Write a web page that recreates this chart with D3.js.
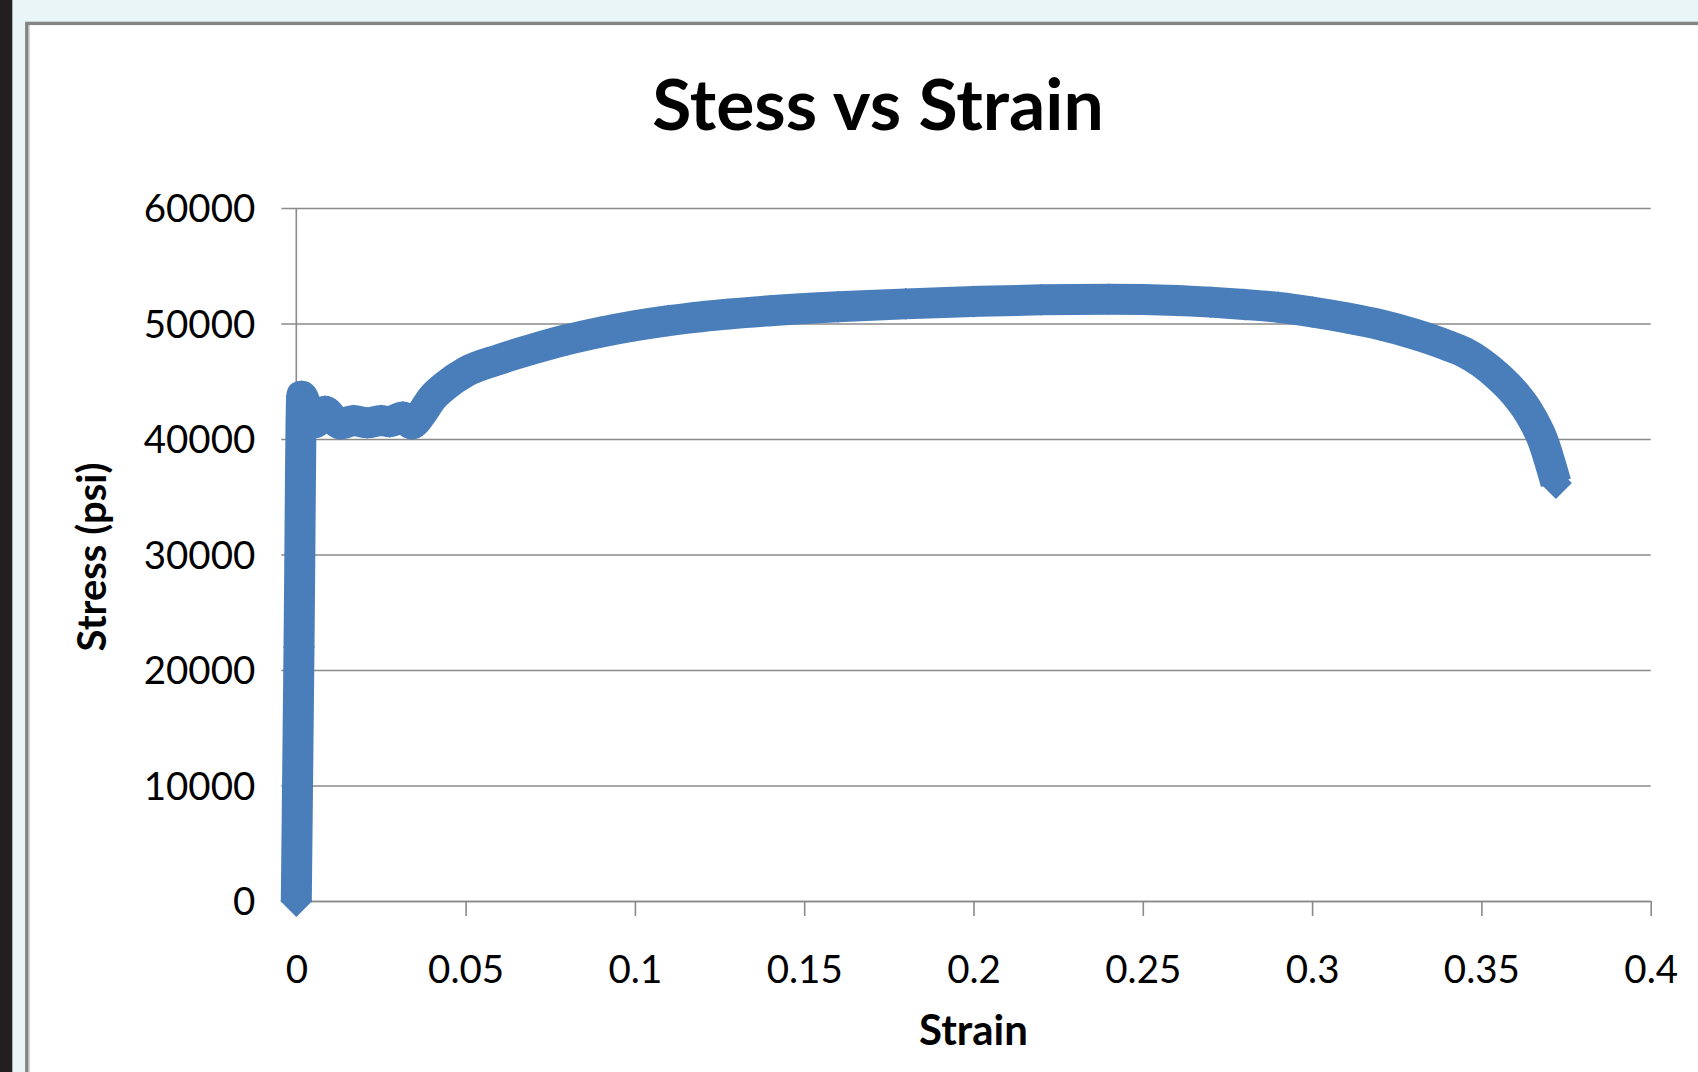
<!DOCTYPE html>
<html>
<head>
<meta charset="utf-8">
<script src="https://cdn.jsdelivr.net/npm/d3@7"></script>
<style>
  html, body { margin: 0; padding: 0; background: #eaf5f8; }
  svg { display: block; }
</style>
</head>
<body>
<svg id="chart" width="1698" height="1072"></svg>
<script>
// ---- data ----
const strain = [0, 0.0008, 0.0016, 0.0035, 0.0055, 0.0085, 0.011, 0.013, 0.017, 0.021, 0.025, 0.0275, 0.0315, 0.034, 0.037, 0.040, 0.044, 0.050,
                0.060, 0.070, 0.080, 0.090, 0.100, 0.110, 0.120, 0.140, 0.160, 0.180, 0.200, 0.220, 0.240, 0.260, 0.270, 0.280, 0.290,
                0.300, 0.310, 0.320, 0.330, 0.340, 0.345, 0.350, 0.355, 0.360, 0.364, 0.368, 0.372];
const stress = [0, 22000, 43700, 42300, 41400, 42400, 41700, 41300, 41600, 41400, 41600, 41500, 41900, 41300, 42200, 43500, 44600, 45800,
                46900, 47800, 48600, 49250, 49800, 50250, 50600, 51100, 51450, 51700, 51900, 52050, 52100, 52000, 51850, 51650, 51400,
                51000, 50500, 49900, 49100, 48100, 47500, 46600, 45400, 43900, 42300, 40000, 36200];
const xTicks = [0, 0.05, 0.1, 0.15, 0.2, 0.25, 0.3, 0.35, 0.4];
const xTickLabels = ["0", "0.05", "0.1", "0.15", "0.2", "0.25", "0.3", "0.35", "0.4"];
const yTicks = [0, 10000, 20000, 30000, 40000, 50000, 60000];
const yTickLabels = ["0", "10000", "20000", "30000", "40000", "50000", "60000"];
const chartTitle = "Stess vs Strain";
const xTitle = "Strain";
const yTitle = "Stress (psi)";

// ---- layout ----
const W = 1698, H = 1072;
const plot = { left: 296.3, right: 1650.7, top: 208, bottom: 901 };
const FONT = "Lato, 'Open Sans', sans-serif";
const LINE_COLOR = "#4a7ebb";
const GRID_COLOR = "#8a8a8a";

const svg = d3.select("#chart");

// page background + dark strip
svg.append("rect").attr("x", 0).attr("y", 0).attr("width", W).attr("height", H).attr("fill", "#eaf5f8");
svg.append("rect").attr("x", 0).attr("y", 0).attr("width", 12.3).attr("height", H).attr("fill", "#231f20");
// chart frame
svg.append("rect").attr("x", 26.8).attr("y", 23.4).attr("width", W + 40).attr("height", H + 40)
  .attr("fill", "#ffffff").attr("stroke", "#858585").attr("stroke-width", 3.4);
svg.append("line").attr("x1", 29).attr("x2", 29).attr("y1", 25).attr("y2", H)
  .attr("stroke", "#b0b0b0").attr("stroke-width", 1);

const x = d3.scaleLinear().domain([0, 0.4]).range([plot.left, plot.right]);
const y = d3.scaleLinear().domain([0, 60000]).range([plot.bottom, plot.top]);

// y gridlines + labels
const tickOut = 15;
const yAxis = d3.axisLeft(y).tickValues(yTicks)
  .tickFormat((d, i) => yTickLabels[i])
  .tickSizeInner(-(plot.right - plot.left + tickOut)).tickSizeOuter(0).tickPadding(26);
const gy = svg.append("g").attr("transform", `translate(${plot.left - tickOut},0)`).call(yAxis);
gy.select(".domain").remove();
gy.selectAll(".tick line").attr("stroke", GRID_COLOR).attr("stroke-width", 1.6);
gy.selectAll(".tick text").attr("font-family", FONT).attr("font-size", 38.5).attr("fill", "#000")
  .attr("dy", "0.36em");

// y axis line
svg.append("line").attr("x1", x(0)).attr("x2", x(0)).attr("y1", y(60000)).attr("y2", y(0))
  .attr("stroke", GRID_COLOR).attr("stroke-width", 1.6);

// x axis
const xAxis = d3.axisBottom(x).tickValues(xTicks)
  .tickFormat((d, i) => xTickLabels[i])
  .tickSizeInner(tickOut).tickSizeOuter(0);
const gx = svg.append("g").attr("transform", `translate(0,${plot.bottom})`).call(xAxis);
gx.select(".domain").attr("stroke", GRID_COLOR).attr("stroke-width", 1.6);
gx.selectAll(".tick line").attr("stroke", GRID_COLOR).attr("stroke-width", 1.6);
gx.selectAll(".tick text").attr("font-family", FONT).attr("font-size", 38.5).attr("fill", "#000")
  .attr("y", 82).attr("dy", 0);

// data line
const pts = strain.map((s, i) => [s, stress[i]]);
const line = d3.line().x(d => x(d[0])).y(d => y(d[1])).curve(d3.curveMonotoneX);
svg.append("path").datum(pts).attr("d", line)
  .attr("fill", "none").attr("stroke", LINE_COLOR).attr("stroke-width", 31)
  .attr("stroke-linejoin", "round").attr("stroke-linecap", "butt");
// diamond markers
const diamond = d3.symbol().type(d3.symbolSquare).size(512);
svg.append("g").selectAll("path").data(pts).join("path")
  .attr("d", diamond)
  .attr("transform", d => `translate(${x(d[0])},${y(d[1])}) rotate(45)`)
  .attr("fill", LINE_COLOR);

// titles
svg.append("text").attr("x", 878).attr("y", 130).attr("text-anchor", "middle")
  .attr("font-family", FONT).attr("font-weight", "bold").attr("font-size", 71.5).attr("fill", "#000")
  .text(chartTitle);
svg.append("text").attr("x", (plot.left + plot.right) / 2).attr("y", 1045).attr("text-anchor", "middle")
  .attr("font-family", FONT).attr("font-weight", "bold").attr("font-size", 42).attr("fill", "#000")
  .text(xTitle);
svg.append("text").attr("transform", "translate(106,557) rotate(-90)").attr("text-anchor", "middle")
  .attr("font-family", FONT).attr("font-weight", "bold").attr("font-size", 40).attr("fill", "#000")
  .text(yTitle);
</script>
</body>
</html>
